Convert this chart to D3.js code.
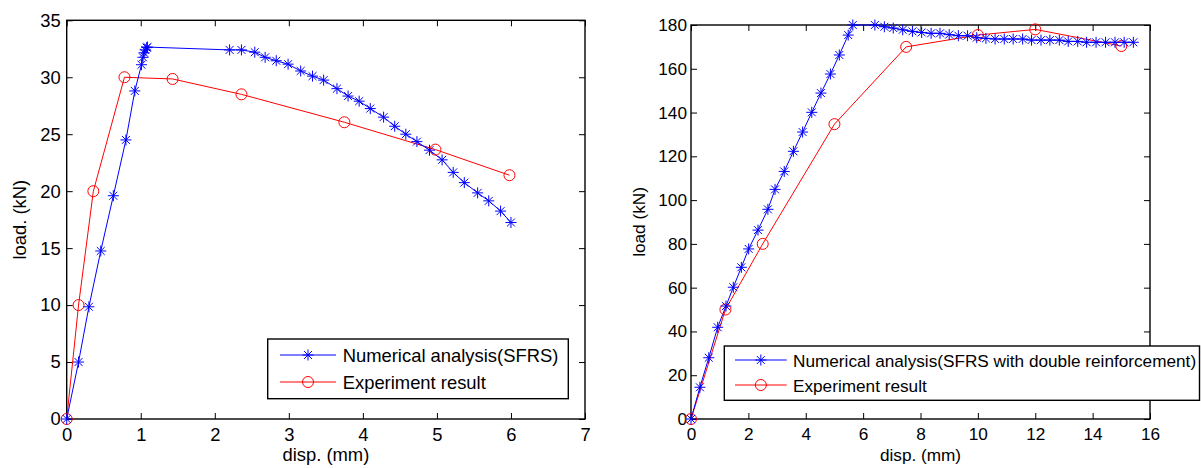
<!DOCTYPE html>
<html>
<head>
<meta charset="utf-8">
<script src="https://cdn.jsdelivr.net/npm/d3@7"></script>
<style>
  body { margin: 0; background: #fff; }
  text { font-family: "Liberation Sans", Arial, sans-serif; }
</style>
</head>
<body>
<svg id="chart" width="1201" height="468"></svg>
<script>
// ---- left panel: SFRS ----
var dispNumA = [0, 0.16, 0.30, 0.46, 0.63, 0.80, 0.92, 1.01, 1.03, 1.045, 1.06, 1.08, 1.09,
                2.20, 2.36, 2.54, 2.68, 2.83, 2.99, 3.16, 3.32, 3.47, 3.65, 3.80, 3.95, 4.10,
                4.28, 4.43, 4.58, 4.73, 4.90, 5.07, 5.22, 5.37, 5.55, 5.70, 5.86, 6.00];
var loadNumA = [0, 5.0, 9.85, 14.75, 19.6, 24.5, 28.8, 31.1, 31.75, 32.15, 32.4, 32.6, 32.65,
                32.4, 32.4, 32.2, 31.75, 31.45, 31.15, 30.55, 30.1, 29.75, 29.0, 28.35, 27.9, 27.25,
                26.5, 25.7, 25.0, 24.35, 23.6, 22.75, 21.65, 20.75, 19.85, 19.15, 18.25, 17.25];
var dispExpA = [0, 0.16, 0.36, 0.78, 1.43, 2.36, 3.75, 4.98, 5.98];
var loadExpA = [0, 10, 20, 30, 29.85, 28.5, 26.05, 23.65, 21.4];
var xTicksA = [0, 1, 2, 3, 4, 5, 6, 7];
var yTicksA = [0, 5, 10, 15, 20, 25, 30, 35];

// ---- right panel: SFRS with double reinforcement ----
var dispNumB = [0, 0.31, 0.62, 0.93, 1.22, 1.475, 1.755, 2.01, 2.335, 2.68, 2.93, 3.25, 3.57,
                3.89, 4.21, 4.53, 4.86, 5.17, 5.48, 5.64, 6.41, 6.74, 7.05, 7.38, 7.72, 8.04,
                8.37, 8.68, 9.0, 9.32, 9.64, 9.96, 10.28, 10.6, 10.92, 11.23, 11.56, 11.87,
                12.2, 12.51, 12.84, 13.15, 13.48, 13.79, 14.12, 14.45, 14.78, 15.1, 15.42];
var loadNumB = [0, 14.5, 28.0, 41.9, 51.6, 60.2, 69.3, 77.7, 86.3, 95.8, 104.9, 113.1, 122.3,
                131.1, 140.1, 148.9, 157.6, 166.3, 175.4, 180, 180, 179.2, 178.6, 177.8, 177.1, 176.6,
                176.2, 176.2, 175.6, 175.1, 175.1, 174.2, 173.9, 173.6, 173.6, 173.6, 173.6, 173.1,
                173.1, 173.1, 173.1, 172.5, 172.5, 172.1, 172.1, 172.1, 172.1, 172.1, 172.1];
var dispExpB = [0, 1.2, 2.5, 5.0, 7.5, 10, 12, 15];
var loadExpB = [0, 50, 80, 134.7, 170, 175.4, 178, 170.4];
var xTicksB = [0, 2, 4, 6, 8, 10, 12, 14, 16];
var yTicksB = [0, 20, 40, 60, 80, 100, 120, 140, 160, 180];

var expName = "Experiment result";
var numNameA = "Numerical analysis(SFRS)";
var numNameB = "Numerical analysis(SFRS with double reinforcement)";

var svg = d3.select("#chart");

function starPath(r) {
    var d = r * 0.72;
    return "M" + (-r) + ",0H" + r + "M0," + (-r) + "V" + r +
           "M" + (-d) + "," + (-d) + "L" + d + "," + d +
           "M" + (-d) + "," + d + "L" + d + "," + (-d);
}

function panel(o) {
    var FONT = o.font;
    var x = d3.scaleLinear().domain(o.xDomain).range([o.left, o.right]);
    var y = d3.scaleLinear().domain(o.yDomain).range([o.bottom, o.top]);
    var g = svg.append("g");
    var fmt = d3.format("d");

    // ticks on all four sides, pointing inward
    var ax = [
        [d3.axisBottom(x).tickValues(o.xTicks).tickFormat(fmt).tickSize(-6).tickPadding(9), "translate(0," + o.bottom + ")"],
        [d3.axisTop(x).tickValues(o.xTicks).tickSize(-6).tickFormat(""), "translate(0," + o.top + ")"],
        [d3.axisLeft(y).tickValues(o.yTicks).tickFormat(fmt).tickSize(-6).tickPadding(o.yPad), "translate(" + o.left + ",0)"],
        [d3.axisRight(y).tickValues(o.yTicks).tickSize(-6).tickFormat(""), "translate(" + o.right + ",0)"]
    ];
    ax.forEach(function (a) {
        var ag = g.append("g").attr("transform", a[1]).call(a[0].tickSizeOuter(0));
        ag.select(".domain").remove();
        ag.selectAll("line").attr("stroke", "#000").attr("stroke-width", 1);
        ag.selectAll("text").attr("font-size", FONT).attr("fill", "#000")
          .attr("font-family", "Liberation Sans, Arial, sans-serif");
    });

    g.append("rect")
        .attr("x", o.left).attr("y", o.top)
        .attr("width", o.right - o.left).attr("height", o.bottom - o.top)
        .attr("fill", "none").attr("stroke", "#000").attr("stroke-width", 1.4);

    var line = d3.line().x(function (d) { return x(d[0]); }).y(function (d) { return y(d[1]); });
    var num = d3.zip(o.numX, o.numY);
    var exp = d3.zip(o.expX, o.expY);

    g.append("path").datum(exp).attr("d", line)
        .attr("fill", "none").attr("stroke", "#ff0000").attr("stroke-width", 1);
    g.append("path").datum(num).attr("d", line)
        .attr("fill", "none").attr("stroke", "#0000ff").attr("stroke-width", 1);

    g.selectAll(".circ").data(exp).enter().append("circle")
        .attr("cx", function (d) { return x(d[0]); })
        .attr("cy", function (d) { return y(d[1]); })
        .attr("r", 5.5).attr("fill", "none").attr("stroke", "#ff0000").attr("stroke-width", 1);
    g.selectAll(".star").data(num).enter().append("path")
        .attr("transform", function (d) { return "translate(" + x(d[0]) + "," + y(d[1]) + ")"; })
        .attr("d", starPath(5.5)).attr("fill", "none").attr("stroke", "#0000ff").attr("stroke-width", 1);

    // axis labels
    g.append("text").attr("x", (o.left + o.right) / 2).attr("y", 461)
        .attr("text-anchor", "middle").attr("font-size", FONT).text("disp. (mm)");
    g.append("text")
        .attr("transform", "translate(" + o.yLabelX + "," + (o.top + o.bottom) / 2 + ") rotate(-90)")
        .attr("text-anchor", "middle").attr("font-size", FONT).text(o.yLabel);

    // legend
    var L = o.legend;
    var lg = g.append("g");
    lg.append("rect").attr("x", L.x0).attr("y", L.y0)
        .attr("width", L.x1 - L.x0).attr("height", L.y1 - L.y0)
        .attr("fill", "#fff").attr("stroke", "#000").attr("stroke-width", 1.4);
    var items = [
        { name: o.numName, color: "#0000ff", star: true, ly: L.rows[0] },
        { name: expName, color: "#ff0000", star: false, ly: L.rows[1] }
    ];
    items.forEach(function (it) {
        lg.append("line").attr("x1", L.lx0).attr("x2", L.lx1)
            .attr("y1", it.ly).attr("y2", it.ly).attr("stroke", it.color).attr("stroke-width", 1);
        var mx = (L.lx0 + L.lx1) / 2;
        if (it.star) {
            lg.append("path").attr("transform", "translate(" + mx + "," + it.ly + ")")
                .attr("d", starPath(5.5)).attr("fill", "none").attr("stroke", it.color);
        } else {
            lg.append("circle").attr("cx", mx).attr("cy", it.ly).attr("r", 5.5)
                .attr("fill", "none").attr("stroke", it.color);
        }
        lg.append("text").attr("x", L.tx).attr("y", it.ly + 0.38 * FONT)
            .attr("font-size", FONT).text(it.name);
    });
}

panel({
    xDomain: [0, 7], yDomain: [0, 35], font: 18.4,
    left: 66.7, right: 585, top: 20.3, bottom: 419,
    xTicks: xTicksA, yTicks: yTicksA, yPad: 6,
    numX: dispNumA, numY: loadNumA, expX: dispExpA, expY: loadExpA,
    numName: numNameA, yLabel: "load. (kN)", yLabelX: 26,
    legend: { x0: 267.7, x1: 568.3, y0: 339, y1: 398.7, rows: [355, 382], lx0: 280, lx1: 336, tx: 342.7 }
});

panel({
    xDomain: [0, 16], yDomain: [0, 180], font: 17.2,
    left: 691, right: 1150, top: 25, bottom: 419,
    xTicks: xTicksB, yTicks: yTicksB, yPad: 4,
    numX: dispNumB, numY: loadNumB, expX: dispExpB, expY: loadExpB,
    numName: numNameB, yLabel: "load (kN)", yLabelX: 645,
    legend: { x0: 724.3, x1: 1199.5, y0: 346, y1: 400.3, rows: [360, 385], lx0: 735, lx1: 786.7, tx: 793 }
});
</script>
</body>
</html>
